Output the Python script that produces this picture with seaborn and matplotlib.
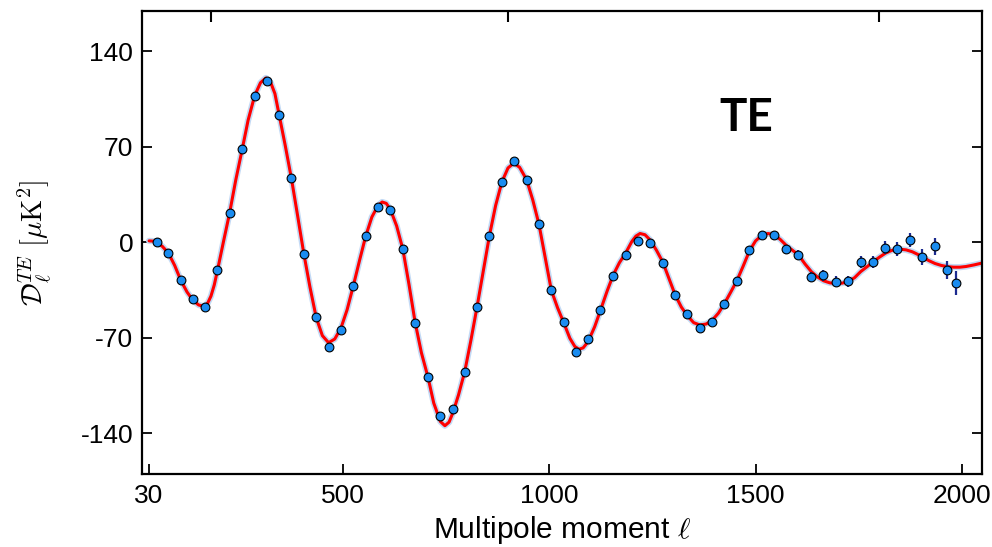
import numpy as np
import pandas as pd
import matplotlib
matplotlib.use('Agg')
import matplotlib.pyplot as plt
import seaborn as sns

# ---- binned TE data points ----
ell_bins = [48, 77, 107, 136, 166, 195, 225, 256, 286, 316,
            345, 375, 405, 435, 465, 495, 525, 555, 585, 614,
            645, 675, 706, 736, 766, 796, 825, 855, 885, 915,
            945, 975, 1005, 1035, 1065, 1094, 1124, 1155, 1185, 1215,
            1245, 1275, 1304, 1334, 1365, 1394, 1424, 1455, 1485, 1515,
            1544, 1574, 1604, 1634, 1664, 1694, 1724, 1755, 1784, 1814,
            1844, 1874, 1904, 1934, 1964, 1987]
te_values = [0.2, -7.8, -28.0, -41.9, -47.3, -20.3, 21.2, 68.6, 107.6, 118.5,
             93.7, 46.8, -8.3, -55.1, -76.8, -64.4, -32.0, 4.4, 25.6, 23.9,
             -5.1, -59.0, -98.8, -127.5, -122.4, -95.1, -47.3, 4.9, 44.1, 59.8,
             45.9, 13.2, -35.3, -58.8, -80.5, -71.0, -50.0, -25.1, -9.5, 1.2,
             -0.7, -15.1, -39.0, -52.7, -62.9, -58.3, -45.6, -28.5, -5.9, 5.1,
             5.1, -5.1, -9.3, -25.4, -24.4, -29.0, -28.8, -14.6, -14.6, -3.9,
             -5.1, 1.7, -10.8, -3.1, -20.5, -30.2]
te_errors = [3.0, 2.5, 2.2, 2.0, 2.0, 2.0, 2.0, 2.0, 2.0, 2.0,
             2.0, 2.0, 2.0, 2.0, 2.0, 2.0, 2.0, 2.0, 2.0, 2.0,
             2.0, 2.0, 2.0, 2.0, 2.0, 2.0, 2.0, 2.0, 2.0, 2.0,
             2.0, 2.0, 2.1, 2.1, 2.2, 2.2, 2.3, 2.3, 2.4, 2.4,
             2.5, 2.5, 2.6, 2.6, 2.7, 2.7, 2.8, 2.9, 3.0, 3.1,
             3.2, 3.3, 3.4, 3.5, 3.7, 3.9, 4.1, 4.4, 4.6, 4.9,
             5.1, 5.4, 5.8, 6.2, 6.8, 8.8]

# ---- best-fit theory curve ----
theory_ell = [30, 40, 48, 62, 77, 92, 107, 122, 136, 150,
              162, 172, 180, 188, 196, 210, 225, 240, 256, 270,
              286, 300, 313, 325, 335, 345, 360, 375, 390, 405,
              420, 435, 450, 465, 480, 495, 510, 525, 540, 555,
              570, 585, 595, 605, 615, 630, 645, 660, 675, 690,
              706, 720, 736, 747, 757, 766, 780, 795, 810, 825,
              840, 855, 870, 885, 900, 914, 928, 945, 960, 975,
              990, 1005, 1020, 1035, 1050, 1062, 1072, 1082, 1094, 1110,
              1124, 1140, 1155, 1170, 1185, 1200, 1210, 1220, 1232, 1245,
              1260, 1275, 1290, 1305, 1320, 1335, 1350, 1365, 1380, 1394,
              1410, 1424, 1440, 1455, 1470, 1485, 1500, 1515, 1530, 1545,
              1560, 1575, 1590, 1604, 1620, 1635, 1650, 1665, 1680, 1695,
              1710, 1725, 1740, 1755, 1770, 1784, 1800, 1815, 1830, 1850,
              1865, 1880, 1895, 1904, 1920, 1935, 1950, 1965, 1980, 1995,
              2010, 2030, 2050]
theory_te = [1.0, 0.8, 0.0, -3.0, -8.0, -17.0, -28.0, -36.5, -42.5, -46.0,
             -47.0, -44.7, -39.5, -31.3, -20.3, 0.0, 21.2, 45.5, 68.6, 89.5,
             107.6, 117.0, 120.5, 117.0, 109.0, 93.7, 71.0, 46.8, 19.5, -8.3,
             -33.0, -55.1, -68.5, -73.7, -71.0, -63.0, -49.5, -32.0, -13.5, 4.4,
             18.5, 27.0, 29.5, 28.5, 23.9, 12.0, -5.0, -31.0, -59.0, -81.0,
             -99.0, -118.0, -131.5, -134.6, -132.0, -125.4, -112.0, -95.0, -72.0, -47.3,
             -21.0, 4.9, 27.0, 44.1, 54.5, 58.0, 55.0, 45.9, 31.0, 13.2,
             -11.0, -35.3, -48.0, -59.0, -70.5, -76.5, -78.5, -77.5, -73.0, -62.0,
             -50.0, -36.0, -24.0, -15.0, -8.0, 0.5, 4.5, 6.4, 5.5, 1.5,
             -6.0, -14.5, -26.5, -38.5, -47.5, -54.0, -59.0, -60.7, -60.0, -57.5,
             -52.0, -45.3, -36.5, -28.0, -17.5, -6.5, 1.0, 5.0, 6.4, 5.5,
             2.0, -2.5, -6.0, -9.3, -16.0, -21.5, -25.5, -28.3, -29.8, -30.3,
             -30.0, -28.8, -26.0, -21.5, -18.0, -14.6, -11.0, -8.0, -6.0, -5.1,
             -5.6, -7.0, -9.2, -10.8, -13.5, -15.6, -17.0, -17.9, -18.3, -18.3,
             -17.8, -16.6, -15.2]

x_ticks = [30, 500, 1000, 1500, 2000]
y_ticks = [-140, -70, 0, 70, 140]
top_ticks = [180, 900, 1800]   # 1 deg, 0.2 deg, 0.1 deg angular scale

assert len(ell_bins) == len(te_values) == len(te_errors)
assert len(theory_ell) == len(theory_te)

sns.set_style('ticks')
plt.rcParams['font.family'] = ['Liberation Sans', 'DejaVu Sans']
plt.rcParams['mathtext.fontset'] = 'cm'
plt.rcParams['axes.unicode_minus'] = False
for key in ['text.color', 'axes.labelcolor', 'xtick.color', 'ytick.color',
            'axes.edgecolor']:
    plt.rcParams[key] = 'black'

fig = plt.figure(figsize=(9.92, 5.47), dpi=100)
ax = fig.add_axes([0.1428, 0.1335, 0.8476, 0.8473])

df_th = pd.DataFrame({'ell': theory_ell, 'te': theory_te})
df_pts = pd.DataFrame({'ell': ell_bins, 'te': te_values, 'err': te_errors})

sns.lineplot(data=df_th, x='ell', y='te', ax=ax, color='#c3daf5', lw=4.5, zorder=1)
sns.lineplot(data=df_th, x='ell', y='te', ax=ax, color='#ff0000', lw=2.2, zorder=2)
ax.errorbar(df_pts['ell'], df_pts['te'], yerr=df_pts['err'], fmt='none',
            ecolor='#1b2a8f', elinewidth=1.6, capsize=0, zorder=3)
sns.scatterplot(data=df_pts, x='ell', y='te', ax=ax, color='#1a8cf0',
                edgecolor='black', linewidth=0.8, s=40, zorder=4)

ax.set_xlim(12, 2050)
ax.set_ylim(-170, 170)
ax.set_xticks(x_ticks)
ax.set_yticks(y_ticks)
ax.set_xlabel('')
ax.set_ylabel('')
for sp in ax.spines.values():
    sp.set_visible(True)
    sp.set_linewidth(1.6)
    sp.set_color('black')
ax.tick_params(which='major', direction='in', length=7.5, width=1.3, labelsize=19,
               right=True, top=False, labelright=False, pad=6, colors='black')
ax.tick_params(axis='x', which='major', pad=7)
ax.minorticks_off()

# top (angular-scale) tick marks
for t in top_ticks:
    ax.axvline(t, ymin=0.975, ymax=1.0, color='black', lw=1.5,
               solid_capstyle='butt', clip_on=False, zorder=6)

fig.text(562 / 992, 1 - 530 / 547, r'Multipole moment $\ell$', fontsize=21.5,
         ha='center', va='center', color='black')
fig.text(35 / 992, 1 - 243 / 547, r'$\mathcal{D}_\ell^{TE}\ [\mu\mathrm{K}^2]$',
         fontsize=20.5, rotation=90, ha='center', va='center', color='black')
fig.text(746 / 992, 1 - 118 / 547, 'TE', fontsize=33, fontweight='bold',
         family=['Lato', 'DejaVu Sans'], ha='center', va='center', color='black')

fig.savefig('out.png', dpi=100)
